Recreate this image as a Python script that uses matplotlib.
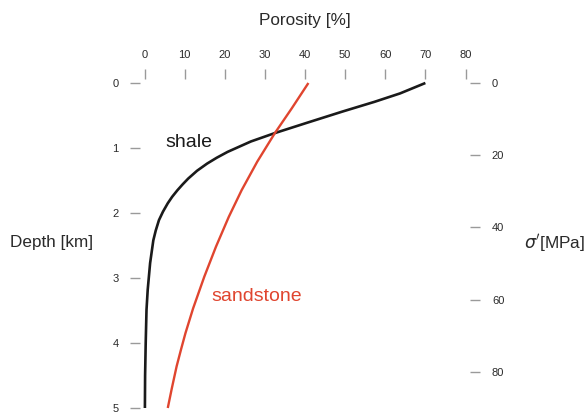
import matplotlib
matplotlib.use("Agg")
import matplotlib.pyplot as plt

plt.rcParams['font.family'] = ['Liberation Sans', 'DejaVu Sans']

# Data (porosity in %, depth in km)
shale_depth = [0.0, 0.16, 0.29, 0.44, 0.61, 0.77, 0.90, 1.06, 1.15, 1.24, 1.35, 1.47,
               1.56, 1.65, 1.75, 1.85, 1.98, 2.11, 2.27, 2.42, 2.77, 3.18, 3.49, 4.0, 4.5, 5.0]
shale_poro = [70.0, 63.7, 57.3, 49.3, 40.6, 32.5, 26.5, 20.7, 18.0, 15.6, 13.1, 10.9,
              9.5, 8.2, 6.9, 5.8, 4.6, 3.6, 2.8, 2.2, 1.4, 0.8, 0.5, 0.3, 0.15, 0.1]
sand_depth = [0.0, 0.39, 0.77, 1.21, 1.65, 2.06, 2.52, 2.98, 3.47, 3.85, 4.1, 4.36, 4.7, 5.0]
sand_poro = [40.85, 36.7, 32.5, 28.1, 24.2, 21.0, 17.8, 14.9, 12.1, 10.2, 9.1, 8.0, 6.8, 5.8]

x_ticks = [0, 10, 20, 30, 40, 50, 60, 70, 80]
depth_ticks = [0, 1, 2, 3, 4, 5]
stress_ticks = [0, 20, 40, 60, 80]

W, H = 588, 416
fig = plt.figure(figsize=(W / 100, H / 100), dpi=100)
ax = fig.add_axes([144.5 / W, (H - 408) / H, (465.5 - 144.5) / W, (408 - 83) / H])

ax.plot(shale_poro, shale_depth, color='#1a1a1a', lw=1.9, clip_on=False,
        solid_capstyle='butt', solid_joinstyle='round')
ax.plot(sand_poro, sand_depth, color='#e0452f', lw=1.7, clip_on=False,
        solid_capstyle='butt', solid_joinstyle='round')

ax.set_xlim(0, 80)
ax.set_ylim(5, 0)

tick_col = '#9a9a9a'
lab_col = '#2a2a2a'
for s in ax.spines.values():
    s.set_visible(False)
ax.spines['top'].set_position(('outward', 2.7))
ax.spines['left'].set_position(('outward', 3.2))

ax.xaxis.tick_top()
ax.set_xticks(x_ticks)
ax.set_yticks(depth_ticks)
ax.tick_params(axis='x', which='both', length=7.4, width=1, color=tick_col,
               labelsize=8, pad=6.5, labelcolor=lab_col)
ax.tick_params(axis='y', which='both', length=7.2, width=1, color=tick_col,
               labelsize=8, pad=8.2, labelcolor=lab_col)

ax2 = ax.twinx()
ax2.set_ylim(90, 0)
for s in ax2.spines.values():
    s.set_visible(False)
ax2.spines['right'].set_position(('outward', 3.2))
ax2.set_yticks(stress_ticks)
ax2.tick_params(axis='y', length=7.2, width=1, color=tick_col,
                labelsize=8, pad=8.6, labelcolor=lab_col)

ax.text(5.1, 0.92, 'shale', color='#1a1a1a', fontsize=14, ha='left', va='center')
ax.text(16.6, 3.29, 'sandstone', color='#e0452f', fontsize=14, ha='left', va='center')

fig.text(305 / W, 1 - 21 / H, 'Porosity [%]', ha='center', va='center', fontsize=12.3, color=lab_col)
fig.text(10 / W, 1 - 242 / H, 'Depth [km]', ha='left', va='center', fontsize=12.3, color=lab_col)
fig.text(524 / W, 1 - 243 / H, r"$\sigma'$[MPa]", ha='left', va='center', fontsize=12.3, color=lab_col)

fig.savefig('out.png', dpi=100)
